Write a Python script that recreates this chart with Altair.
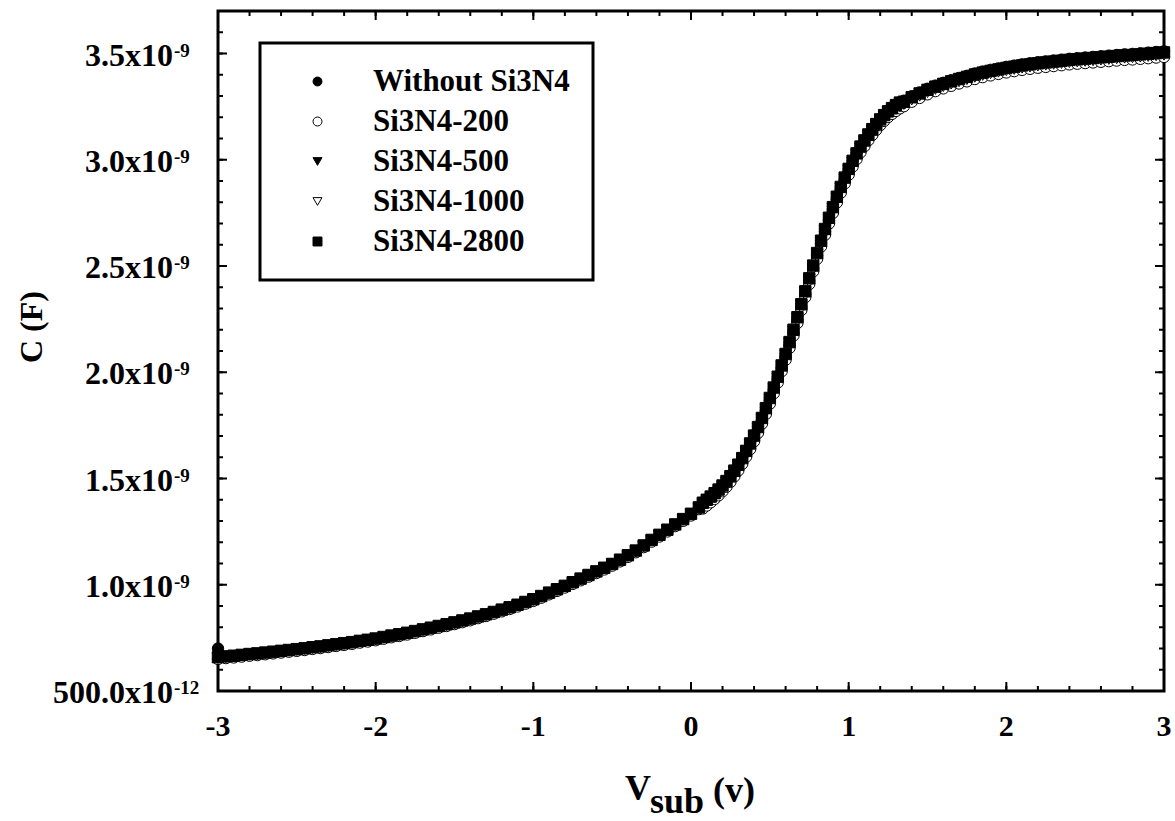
import altair as alt
import pandas as pd

# Gate voltage sweep (V)
V = [-3.0, -2.95, -2.9, -2.85, -2.8, -2.75, -2.7, -2.65, -2.6, -2.55,
     -2.5, -2.45, -2.4, -2.35, -2.3, -2.25, -2.2, -2.15, -2.1, -2.05,
     -2.0, -1.95, -1.9, -1.85, -1.8, -1.75, -1.7, -1.65, -1.6, -1.55,
     -1.5, -1.45, -1.4, -1.35, -1.3, -1.25, -1.2, -1.15, -1.1, -1.05,
     -1.0, -0.95, -0.9, -0.85, -0.8, -0.75, -0.7, -0.65, -0.6, -0.55,
     -0.5, -0.45, -0.4, -0.35, -0.3, -0.25, -0.2, -0.15, -0.1, -0.05,
     0.0, 0.05,
     0.075, 0.1, 0.125, 0.15, 0.175, 0.2, 0.225, 0.25, 0.275, 0.3,
     0.325, 0.35, 0.375, 0.4, 0.425, 0.45, 0.475, 0.5, 0.525, 0.55,
     0.575, 0.6, 0.625, 0.65, 0.675, 0.7, 0.725, 0.75, 0.775, 0.8,
     0.825, 0.85, 0.875, 0.9, 0.925, 0.95, 0.975, 1.0, 1.025, 1.05,
     1.075, 1.1, 1.125, 1.15, 1.175, 1.2, 1.225, 1.25, 1.275, 1.3,
     1.325,
     1.35, 1.4, 1.45, 1.5, 1.55, 1.6, 1.65, 1.7, 1.75, 1.8,
     1.85, 1.9, 1.95, 2.0, 2.05, 2.1, 2.15, 2.2, 2.25, 2.3,
     2.35, 2.4, 2.45, 2.5, 2.55, 2.6, 2.65, 2.7, 2.75, 2.8,
     2.85, 2.9, 2.95, 3.0]

# Capacitance values in units of 1e-9 F
C_WITHOUT = [0.700, 0.659, 0.662, 0.666, 0.670, 0.673, 0.677, 0.681, 0.685, 0.689,
             0.693, 0.697, 0.702, 0.706, 0.711, 0.716, 0.721, 0.726, 0.732, 0.737,
             0.743, 0.750, 0.757, 0.763, 0.770, 0.778, 0.786, 0.794, 0.802, 0.810,
             0.819, 0.828, 0.837, 0.847, 0.857, 0.868, 0.879, 0.890, 0.902, 0.915,
             0.928, 0.943, 0.959, 0.975, 0.991, 1.008, 1.025, 1.042, 1.059, 1.076,
             1.094, 1.114, 1.135, 1.157, 1.181, 1.207, 1.231, 1.255, 1.280, 1.305,
             1.330, 1.360,
             1.374, 1.388, 1.403, 1.419, 1.436, 1.455, 1.476, 1.499, 1.525, 1.553,
             1.584, 1.618, 1.653, 1.690, 1.730, 1.773, 1.819, 1.867, 1.916, 1.967,
             2.020, 2.074, 2.130, 2.188, 2.247, 2.308, 2.369, 2.430, 2.490, 2.549,
             2.607, 2.662, 2.715, 2.765, 2.814, 2.860, 2.904, 2.945, 2.983, 3.018,
             3.050, 3.079, 3.107, 3.132, 3.156, 3.178, 3.198, 3.216, 3.231, 3.245,
             3.257,
             3.278, 3.299, 3.317, 3.334, 3.349, 3.362, 3.374, 3.385, 3.395, 3.406,
             3.415, 3.423, 3.430, 3.437, 3.443, 3.449, 3.454, 3.459, 3.463, 3.467,
             3.471, 3.475, 3.478, 3.481, 3.484, 3.487, 3.490, 3.493, 3.496, 3.498,
             3.501, 3.504, 3.507, 3.510]

C_200 = [0.651, 0.655, 0.658, 0.662, 0.666, 0.669, 0.673, 0.677, 0.681, 0.685,
         0.689, 0.693, 0.698, 0.702, 0.707, 0.712, 0.717, 0.722, 0.728, 0.733,
         0.739, 0.746, 0.753, 0.759, 0.766, 0.774, 0.782, 0.790, 0.798, 0.806,
         0.815, 0.824, 0.833, 0.843, 0.853, 0.864, 0.875, 0.886, 0.898, 0.911,
         0.924, 0.939, 0.955, 0.971, 0.987, 1.004, 1.021, 1.038, 1.055, 1.072,
         1.090, 1.110, 1.131, 1.153, 1.177, 1.203, 1.227, 1.251, 1.276, 1.301,
         1.326, 1.356,
         1.359, 1.373, 1.388, 1.404, 1.421, 1.440, 1.461, 1.484, 1.510, 1.538,
         1.569, 1.603, 1.638, 1.675, 1.715, 1.758, 1.804, 1.852, 1.901, 1.952,
         2.005, 2.059, 2.115, 2.173, 2.232, 2.293, 2.354, 2.415, 2.475, 2.534,
         2.592, 2.647, 2.700, 2.750, 2.799, 2.845, 2.889, 2.930, 2.968, 3.003,
         3.035, 3.064, 3.092, 3.117, 3.141, 3.163, 3.183, 3.201, 3.216, 3.230,
         3.242,
         3.252, 3.273, 3.291, 3.308, 3.323, 3.336, 3.348, 3.359, 3.369, 3.380,
         3.389, 3.397, 3.404, 3.411, 3.417, 3.423, 3.428, 3.433, 3.437, 3.441,
         3.445, 3.449, 3.452, 3.455, 3.458, 3.461, 3.464, 3.467, 3.470, 3.472,
         3.475, 3.478, 3.481, 3.484]

C_500 = [0.657, 0.661, 0.664, 0.668, 0.672, 0.675, 0.679, 0.683, 0.687, 0.691,
         0.695, 0.699, 0.704, 0.708, 0.713, 0.718, 0.723, 0.728, 0.734, 0.739,
         0.745, 0.752, 0.759, 0.765, 0.772, 0.780, 0.788, 0.796, 0.804, 0.812,
         0.821, 0.830, 0.839, 0.849, 0.859, 0.870, 0.881, 0.892, 0.904, 0.917,
         0.930, 0.945, 0.961, 0.977, 0.993, 1.010, 1.027, 1.044, 1.061, 1.078,
         1.096, 1.116, 1.137, 1.159, 1.183, 1.209, 1.233, 1.257, 1.282, 1.307,
         1.332, 1.362,
         1.380, 1.394, 1.409, 1.425, 1.442, 1.461, 1.482, 1.505, 1.531, 1.559,
         1.590, 1.624, 1.659, 1.696, 1.736, 1.779, 1.825, 1.873, 1.922, 1.973,
         2.026, 2.080, 2.136, 2.194, 2.253, 2.314, 2.375, 2.436, 2.496, 2.555,
         2.613, 2.668, 2.721, 2.771, 2.820, 2.866, 2.910, 2.951, 2.989, 3.024,
         3.056, 3.085, 3.113, 3.138, 3.162, 3.184, 3.204, 3.222, 3.237, 3.251,
         3.263,
         3.265, 3.286, 3.304, 3.321, 3.336, 3.349, 3.361, 3.372, 3.382, 3.393,
         3.402, 3.410, 3.417, 3.424, 3.430, 3.436, 3.441, 3.446, 3.450, 3.454,
         3.458, 3.462, 3.465, 3.468, 3.471, 3.474, 3.477, 3.480, 3.483, 3.485,
         3.488, 3.491, 3.494, 3.497]

C_1000 = [0.653, 0.657, 0.660, 0.664, 0.668, 0.671, 0.675, 0.679, 0.683, 0.687,
          0.691, 0.695, 0.700, 0.704, 0.709, 0.714, 0.719, 0.724, 0.730, 0.735,
          0.741, 0.748, 0.755, 0.761, 0.768, 0.776, 0.784, 0.792, 0.800, 0.808,
          0.817, 0.826, 0.835, 0.845, 0.855, 0.866, 0.877, 0.888, 0.900, 0.913,
          0.926, 0.941, 0.957, 0.973, 0.989, 1.006, 1.023, 1.040, 1.057, 1.074,
          1.092, 1.112, 1.133, 1.155, 1.179, 1.205, 1.229, 1.253, 1.278, 1.303,
          1.328, 1.358,
          1.366, 1.380, 1.395, 1.411, 1.428, 1.447, 1.468, 1.491, 1.517, 1.545,
          1.576, 1.610, 1.645, 1.682, 1.722, 1.765, 1.811, 1.859, 1.908, 1.959,
          2.012, 2.066, 2.122, 2.180, 2.239, 2.300, 2.361, 2.422, 2.482, 2.541,
          2.599, 2.654, 2.707, 2.757, 2.806, 2.852, 2.896, 2.937, 2.975, 3.010,
          3.042, 3.071, 3.099, 3.124, 3.148, 3.170, 3.190, 3.208, 3.223, 3.237,
          3.249,
          3.260, 3.281, 3.299, 3.316, 3.331, 3.344, 3.356, 3.367, 3.377, 3.388,
          3.397, 3.405, 3.412, 3.419, 3.425, 3.431, 3.436, 3.441, 3.445, 3.449,
          3.453, 3.457, 3.460, 3.463, 3.466, 3.469, 3.472, 3.475, 3.478, 3.480,
          3.483, 3.486, 3.489, 3.492]

C_2800 = [0.659, 0.663, 0.666, 0.670, 0.674, 0.677, 0.681, 0.685, 0.689, 0.693,
          0.697, 0.701, 0.706, 0.710, 0.715, 0.720, 0.725, 0.730, 0.736, 0.741,
          0.747, 0.754, 0.761, 0.767, 0.774, 0.782, 0.790, 0.798, 0.806, 0.814,
          0.823, 0.832, 0.841, 0.851, 0.861, 0.872, 0.883, 0.894, 0.906, 0.919,
          0.932, 0.947, 0.963, 0.979, 0.995, 1.012, 1.029, 1.046, 1.063, 1.080,
          1.098, 1.118, 1.139, 1.161, 1.185, 1.211, 1.235, 1.259, 1.284, 1.309,
          1.334, 1.364,
          1.386, 1.400, 1.415, 1.431, 1.448, 1.467, 1.488, 1.511, 1.537, 1.565,
          1.596, 1.630, 1.665, 1.702, 1.742, 1.785, 1.831, 1.879, 1.928, 1.979,
          2.032, 2.086, 2.142, 2.200, 2.259, 2.320, 2.381, 2.442, 2.502, 2.561,
          2.619, 2.674, 2.727, 2.777, 2.826, 2.872, 2.916, 2.957, 2.995, 3.030,
          3.062, 3.091, 3.119, 3.144, 3.168, 3.190, 3.210, 3.228, 3.243, 3.257,
          3.269,
          3.273, 3.294, 3.312, 3.329, 3.344, 3.357, 3.369, 3.380, 3.390, 3.401,
          3.410, 3.418, 3.425, 3.432, 3.438, 3.444, 3.449, 3.454, 3.458, 3.462,
          3.466, 3.470, 3.473, 3.476, 3.479, 3.482, 3.485, 3.488, 3.491, 3.493,
          3.496, 3.499, 3.502, 3.505]

SERIES = ["Without Si3N4", "Si3N4-200", "Si3N4-500", "Si3N4-1000", "Si3N4-2800"]
SHAPES = ["circle", "circle", "triangle-down", "triangle-down", "square"]
FILLS = ["black", "white", "black", "white", "black"]
STROKES = ["black", "black", "black", "black", "black"]

X_MAJOR = [-3, -2, -1, 0, 1, 2, 3]
X_LABELS = ["-3", "-2", "-1", "0", "1", "2", "3"]
X_MINOR = [-3.0, -2.8, -2.6, -2.4, -2.2, -2.0, -1.8, -1.6, -1.4, -1.2, -1.0,
           -0.8, -0.6, -0.4, -0.2, 0.0, 0.2, 0.4, 0.6, 0.8, 1.0, 1.2, 1.4,
           1.6, 1.8, 2.0, 2.2, 2.4, 2.6, 2.8, 3.0]
Y_MAJOR = [0.5, 1.0, 1.5, 2.0, 2.5, 3.0, 3.5]
Y_LABEL_MAIN = ["500.0x10", "1.0x10", "1.5x10", "2.0x10", "2.5x10", "3.0x10", "3.5x10"]
Y_LABEL_SUP = ["-12", "-9", "-9", "-9", "-9", "-9", "-9"]
Y_MINOR = [0.5, 0.6, 0.7, 0.8, 0.9, 1.0, 1.1, 1.2, 1.3, 1.4, 1.5, 1.6, 1.7,
           1.8, 1.9, 2.0, 2.1, 2.2, 2.3, 2.4, 2.5, 2.6, 2.7, 2.8, 2.9, 3.0,
           3.1, 3.2, 3.3, 3.4, 3.5, 3.6, 3.7]

W, H = 946, 680
FONT = "Liberation Serif"

xs = alt.Scale(domain=[-3, 3], nice=False, zero=False)
ys = alt.Scale(domain=[0.5, 3.7], nice=False, zero=False)

rows = []
for name, vals in zip(SERIES, [C_WITHOUT, C_200, C_500, C_1000, C_2800]):
    for v, c in zip(V, vals):
        rows.append({"V": v, "C": c, "series": name})
df = pd.DataFrame(rows)

legend = alt.Legend(
    title=None, orient="none", legendX=84, legendY=55,
    labelFont=FONT, labelFontWeight="bold", labelFontSize=31, labelColor="black",
    labelLimit=600,
    symbolSize=80, symbolStrokeColor="black", symbolStrokeWidth=1,
    rowPadding=8, labelOffset=40, padding=0, symbolOffset=0,
)

legend_box = alt.Chart(pd.DataFrame({"a": [0]})).mark_rect(
    fill="white", stroke="black", strokeWidth=3
).encode(x=alt.value(42), x2=alt.value(375), y=alt.value(32), y2=alt.value(269))

points = alt.Chart(df).mark_point(
    filled=True, size=130, strokeWidth=1, opacity=1
).encode(
    x=alt.X("V:Q", scale=xs, axis=None),
    y=alt.Y("C:Q", scale=ys, axis=None),
    shape=alt.Shape("series:N", scale=alt.Scale(domain=SERIES, range=SHAPES), legend=legend),
    fill=alt.Fill("series:N", scale=alt.Scale(domain=SERIES, range=FILLS), legend=legend),
    stroke=alt.Stroke("series:N", scale=alt.Scale(domain=SERIES, range=STROKES), legend=legend),
)

xmin_df = pd.DataFrame({"V": X_MINOR})
xmaj_df = pd.DataFrame({"V": X_MAJOR, "lab": X_LABELS})
ymin_df = pd.DataFrame({"C": Y_MINOR})
ymaj_df = pd.DataFrame({"C": Y_MAJOR, "main": Y_LABEL_MAIN, "sup": Y_LABEL_SUP})

def xrule(d, y1, y2):
    return alt.Chart(d).mark_rule(color="black", strokeWidth=2).encode(
        x=alt.X("V:Q", scale=xs, axis=None), y=alt.value(y1), y2=alt.value(y2))

def yrule(d, x1, x2):
    return alt.Chart(d).mark_rule(color="black", strokeWidth=2).encode(
        y=alt.Y("C:Q", scale=ys, axis=None), x=alt.value(x1), x2=alt.value(x2))

ticks = [
    xrule(xmin_df, H, H - 5), xrule(xmaj_df, H, H - 9),
    xrule(xmin_df, 0, 5), xrule(xmaj_df, 0, 9),
    yrule(ymin_df, 0, 5), yrule(ymaj_df, 0, 9),
    yrule(ymin_df, W, W - 5), yrule(ymaj_df, W, W - 9),
]

xlabels = alt.Chart(xmaj_df).mark_text(
    font=FONT, fontWeight="bold", fontSize=30, baseline="middle", align="center", color="black"
).encode(x=alt.X("V:Q", scale=xs, axis=None), y=alt.value(716), text="lab:N")

ylabels = alt.Chart(ymaj_df).mark_text(
    font=FONT, fontWeight="bold", fontSize=32, baseline="middle", align="right", color="black", dy=2
).encode(y=alt.Y("C:Q", scale=ys, axis=None), x=alt.value(-45), text="main:N")

ysup = alt.Chart(ymaj_df).mark_text(
    font=FONT, fontWeight="bold", fontSize=19, baseline="top", align="left", color="black", dy=-12
).encode(y=alt.Y("C:Q", scale=ys, axis=None), x=alt.value(-44), text="sup:N")

one = pd.DataFrame({"a": [0]})
ytitle = alt.Chart(one).mark_text(
    font=FONT, fontWeight="bold", fontSize=32, angle=270, align="center", baseline="middle", color="black"
).encode(x=alt.value(-186), y=alt.value(316), text=alt.value("C (F)"))

xt_v = alt.Chart(one).mark_text(
    font=FONT, fontWeight="bold", fontSize=36, align="left", baseline="alphabetic", color="black"
).encode(x=alt.value(407), y=alt.value(789), text=alt.value("V"))
xt_sub = alt.Chart(one).mark_text(
    font=FONT, fontWeight="bold", fontSize=36, align="left", baseline="alphabetic", color="black"
).encode(x=alt.value(432), y=alt.value(802), text=alt.value("sub"))
xt_unit = alt.Chart(one).mark_text(
    font=FONT, fontWeight="bold", fontSize=36, align="left", baseline="alphabetic", color="black"
).encode(x=alt.value(495), y=alt.value(791), text=alt.value("(v)"))

chart = alt.layer(
    legend_box, *ticks, points, xlabels, ylabels, ysup, ytitle, xt_v, xt_sub, xt_unit
).properties(
    width=W, height=H,
    padding={"left": 218, "top": 11, "right": 11, "bottom": 130},
    autosize=alt.AutoSizeParams(type="none"),
    background="white",
).configure_view(stroke="black", strokeWidth=3)

chart.save("out.html", embed_options={"renderer": "svg", "actions": False})
